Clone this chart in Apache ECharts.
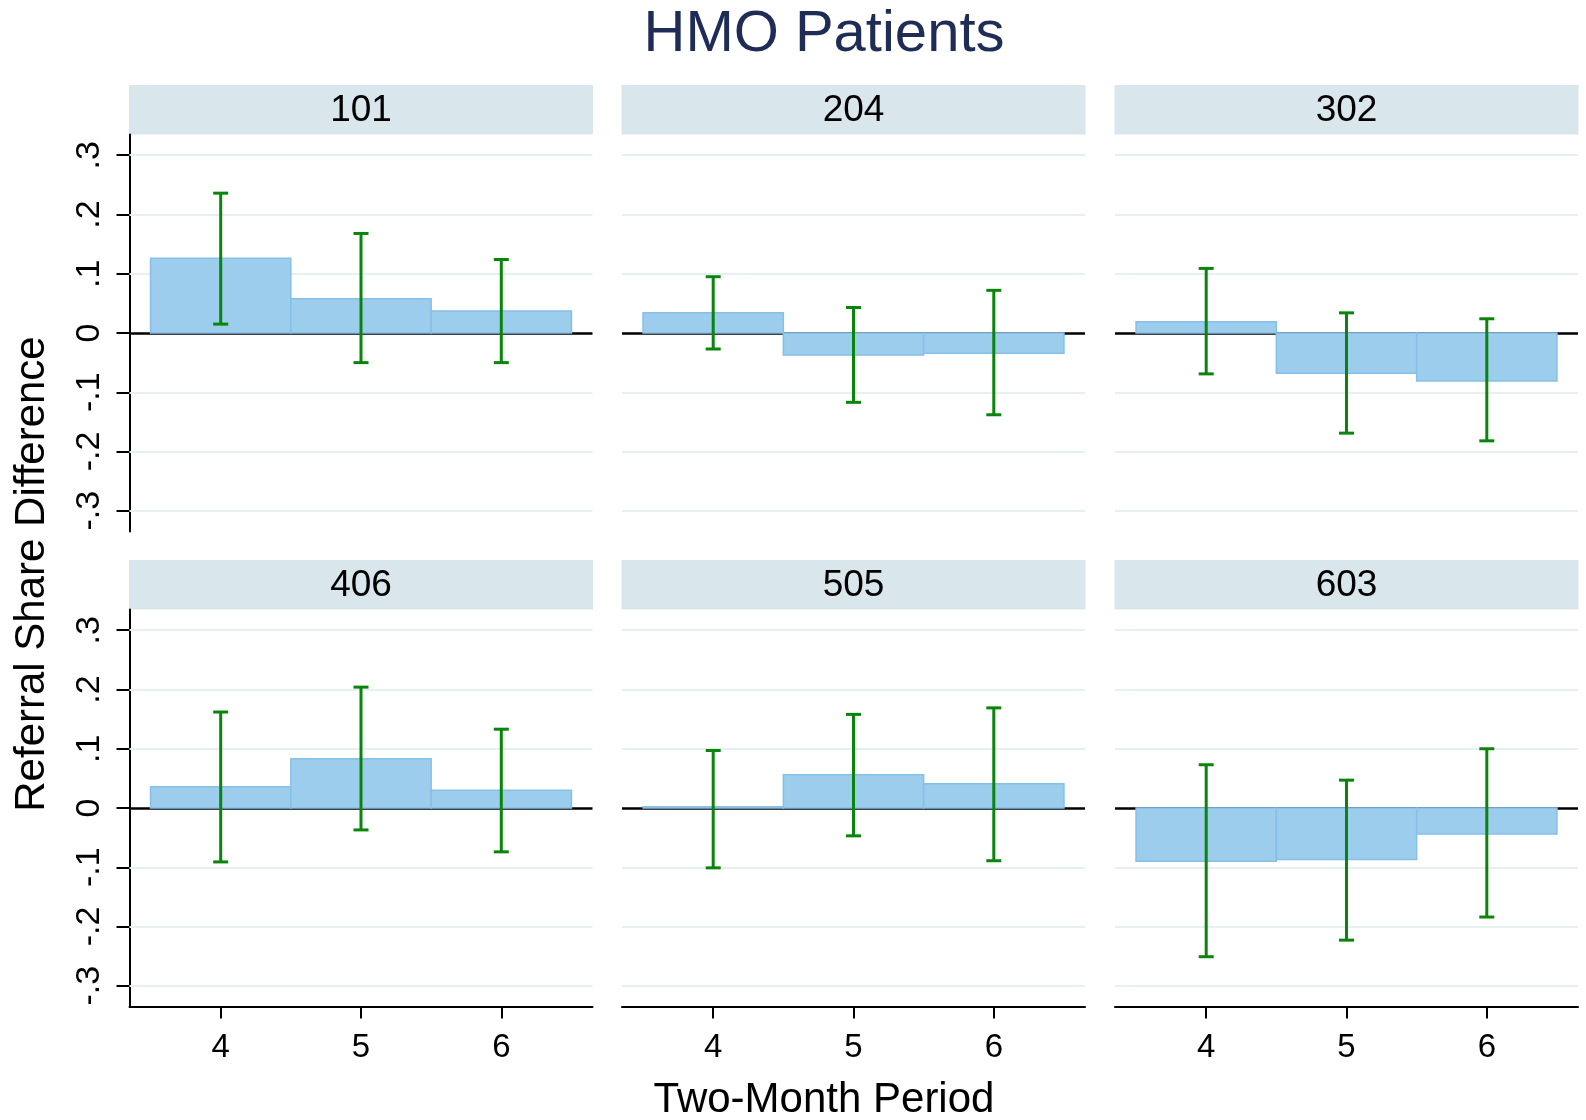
<!DOCTYPE html>
<html><head><meta charset="utf-8">
<script src="https://cdn.jsdelivr.net/npm/echarts@6/dist/echarts.min.js"></script>
<style>html,body{margin:0;padding:0;background:#fff}#c{width:1586px;height:1120px}</style>
</head><body><div id="c"></div>
<script>
// ---- data ----
const periods = [4, 5, 6];
const xTickLabels = ['4', '5', '6'];
const panelNames = ['101', '204', '302', '406', '505', '603'];
const est101 = [0.126, 0.058, 0.037];  const lo101 = [0.015, -0.050, -0.050]; const hi101 = [0.236, 0.168, 0.124];
const est204 = [0.034, -0.037, -0.034]; const lo204 = [-0.027, -0.117, -0.138]; const hi204 = [0.095, 0.043, 0.072];
const est302 = [0.019, -0.068, -0.081]; const lo302 = [-0.069, -0.169, -0.182]; const hi302 = [0.109, 0.034, 0.024];
const est406 = [0.036, 0.083, 0.030];  const lo406 = [-0.091, -0.037, -0.074]; const hi406 = [0.162, 0.204, 0.133];
const est505 = [0.002, 0.056, 0.041];  const lo505 = [-0.101, -0.047, -0.089]; const hi505 = [0.097, 0.158, 0.169];
const est603 = [-0.090, -0.087, -0.044]; const lo603 = [-0.251, -0.223, -0.184]; const hi603 = [0.073, 0.047, 0.100];
const yTicks = [-0.3, -0.2, -0.1, 0, 0.1, 0.2, 0.3];
const yTickLabels = ['-.3', '-.2', '-.1', '0', '.1', '.2', '.3'];
const gridTicks = [-0.3, -0.2, -0.1, 0.1, 0.2, 0.3];
const mainTitle = 'HMO Patients';
const xTitle = 'Two-Month Period';
const yTitle = 'Referral Share Difference';

const EST = [est101, est204, est302, est406, est505, est603];
const LO = [lo101, lo204, lo302, lo406, lo505, lo603];
const HI = [hi101, hi204, hi302, hi406, hi505, hi603];

// ---- layout / style ----
const FONT = '"Liberation Sans", Arial, Helvetica, sans-serif';
const colLeft = [129.5, 622, 1115];
const rowTop = [134.5, 609.5];
const W = 463, H = 397;
const stripH = 49.5;
const BAR_FILL = '#9ccdec', BAR_STROKE = '#86bfe7';
const ERR = '#0a840a';

const chart = echarts.init(document.getElementById('c'), null, {renderer: 'canvas'});

function barRender(params, api) {
  const x = api.value(0), v = api.value(1);
  const a = api.coord([x - 0.5, 0]);
  const b = api.coord([x + 0.5, v]);
  return {
    type: 'rect',
    shape: {x: a[0], y: Math.min(a[1], b[1]), width: b[0] - a[0], height: Math.abs(a[1] - b[1])},
    style: {fill: BAR_FILL, stroke: BAR_STROKE, lineWidth: 1.5}
  };
}
function errRender(params, api) {
  const x = api.value(0);
  const l = api.coord([x, api.value(1)]);
  const h = api.coord([x, api.value(2)]);
  const c = 7.5;
  const st = {stroke: ERR, lineWidth: 3};
  return {type: 'group', children: [
    {type: 'line', shape: {x1: l[0], y1: l[1], x2: h[0], y2: h[1]}, style: st},
    {type: 'line', shape: {x1: l[0] - c, y1: l[1], x2: l[0] + c, y2: l[1]}, style: st},
    {type: 'line', shape: {x1: h[0] - c, y1: h[1], x2: h[0] + c, y2: h[1]}, style: st}
  ]};
}

const grids = [], xAxes = [], yAxes = [], series = [], graphics = [];
panelNames.forEach((name, i) => {
  const r = Math.floor(i / 3), c = i % 3;
  grids.push({left: colLeft[c], top: rowTop[r], width: W, height: H, containLabel: false});
  xAxes.push({
    gridIndex: i, type: 'value', min: 3.35, max: 6.65, show: r === 1,
    axisLine: {show: true, onZero: false, lineStyle: {color: '#000', width: 2}},
    axisTick: {show: true, customValues: periods, length: 12, lineStyle: {color: '#000', width: 2}},
    axisLabel: {customValues: periods, margin: 25, fontSize: 33, fontFamily: FONT, color: '#000',
      formatter: v => xTickLabels[periods.indexOf(v)]},
    splitLine: {show: false}
  });
  yAxes.push({
    gridIndex: i, type: 'value', min: -0.335, max: 0.335, show: c === 0,
    axisLine: {show: true, onZero: false, lineStyle: {color: '#000', width: 2}},
    axisTick: {show: true, customValues: yTicks, length: 13, lineStyle: {color: '#000', width: 2}},
    axisLabel: {customValues: yTicks, rotate: 90, margin: 23, fontSize: 34, fontFamily: FONT, color: '#000',
      formatter: v => { const k = yTicks.findIndex(t => Math.abs(t - v) < 1e-9); return k >= 0 ? yTickLabels[k] : ''; }},
    splitLine: {show: false}
  });
  series.push({
    type: 'custom', xAxisIndex: i, yAxisIndex: i, z: 3,
    renderItem: barRender, encode: {x: 0, y: 1},
    data: periods.map((p, j) => [p, EST[i][j]]),
    markLine: {
      silent: true, symbol: 'none', z: 1, animation: false,
      label: {show: false},
      lineStyle: {color: '#e6eff1', width: 2, type: 'solid'},
      data: gridTicks.map(t => ({yAxis: t}))
    }
  });
  series.push({
    type: 'custom', xAxisIndex: i, yAxisIndex: i, z: 4,
    renderItem: errRender, encode: {x: 0, y: [1, 2]},
    data: periods.map((p, j) => [p, LO[i][j], HI[i][j]]),
    markLine: {
      silent: true, symbol: 'none', z: 2, animation: false,
      label: {show: false},
      lineStyle: {color: '#000', width: 2.5, type: 'solid'},
      data: [{yAxis: 0}]
    }
  });
  // facet strip
  const sx = colLeft[c] - 0.5, sy = rowTop[r] - stripH;
  graphics.push({type: 'rect', x: sx, y: sy, shape: {x: 0, y: 0, width: W + 1, height: stripH},
    style: {fill: '#d9e6eb'}, silent: true, z: 0});
  graphics.push({type: 'text', x: sx + (W + 1) / 2, y: sy + stripH / 2 + 1, silent: true, z: 1,
    style: {text: name, fontSize: 37, fontFamily: FONT, fill: '#000', align: 'center', verticalAlign: 'middle'}});
});

graphics.push({type: 'text', x: 824, y: 35, silent: true,
  style: {text: mainTitle, fontSize: 58, fontFamily: FONT, fill: '#1f2d56', align: 'center', verticalAlign: 'middle'}});
graphics.push({type: 'text', x: 824, y: 1100, silent: true,
  style: {text: xTitle, fontSize: 42, fontFamily: FONT, fill: '#000', align: 'center', verticalAlign: 'middle'}});
graphics.push({type: 'text', x: 32, y: 574, rotation: Math.PI / 2, silent: true,
  style: {text: yTitle, fontSize: 42, fontFamily: FONT, fill: '#000', align: 'center', verticalAlign: 'middle'}});

chart.setOption({
  animation: false,
  backgroundColor: '#fff',
  grid: grids, xAxis: xAxes, yAxis: yAxes, series: series,
  graphic: {elements: graphics}
});
</script>
</body></html>
